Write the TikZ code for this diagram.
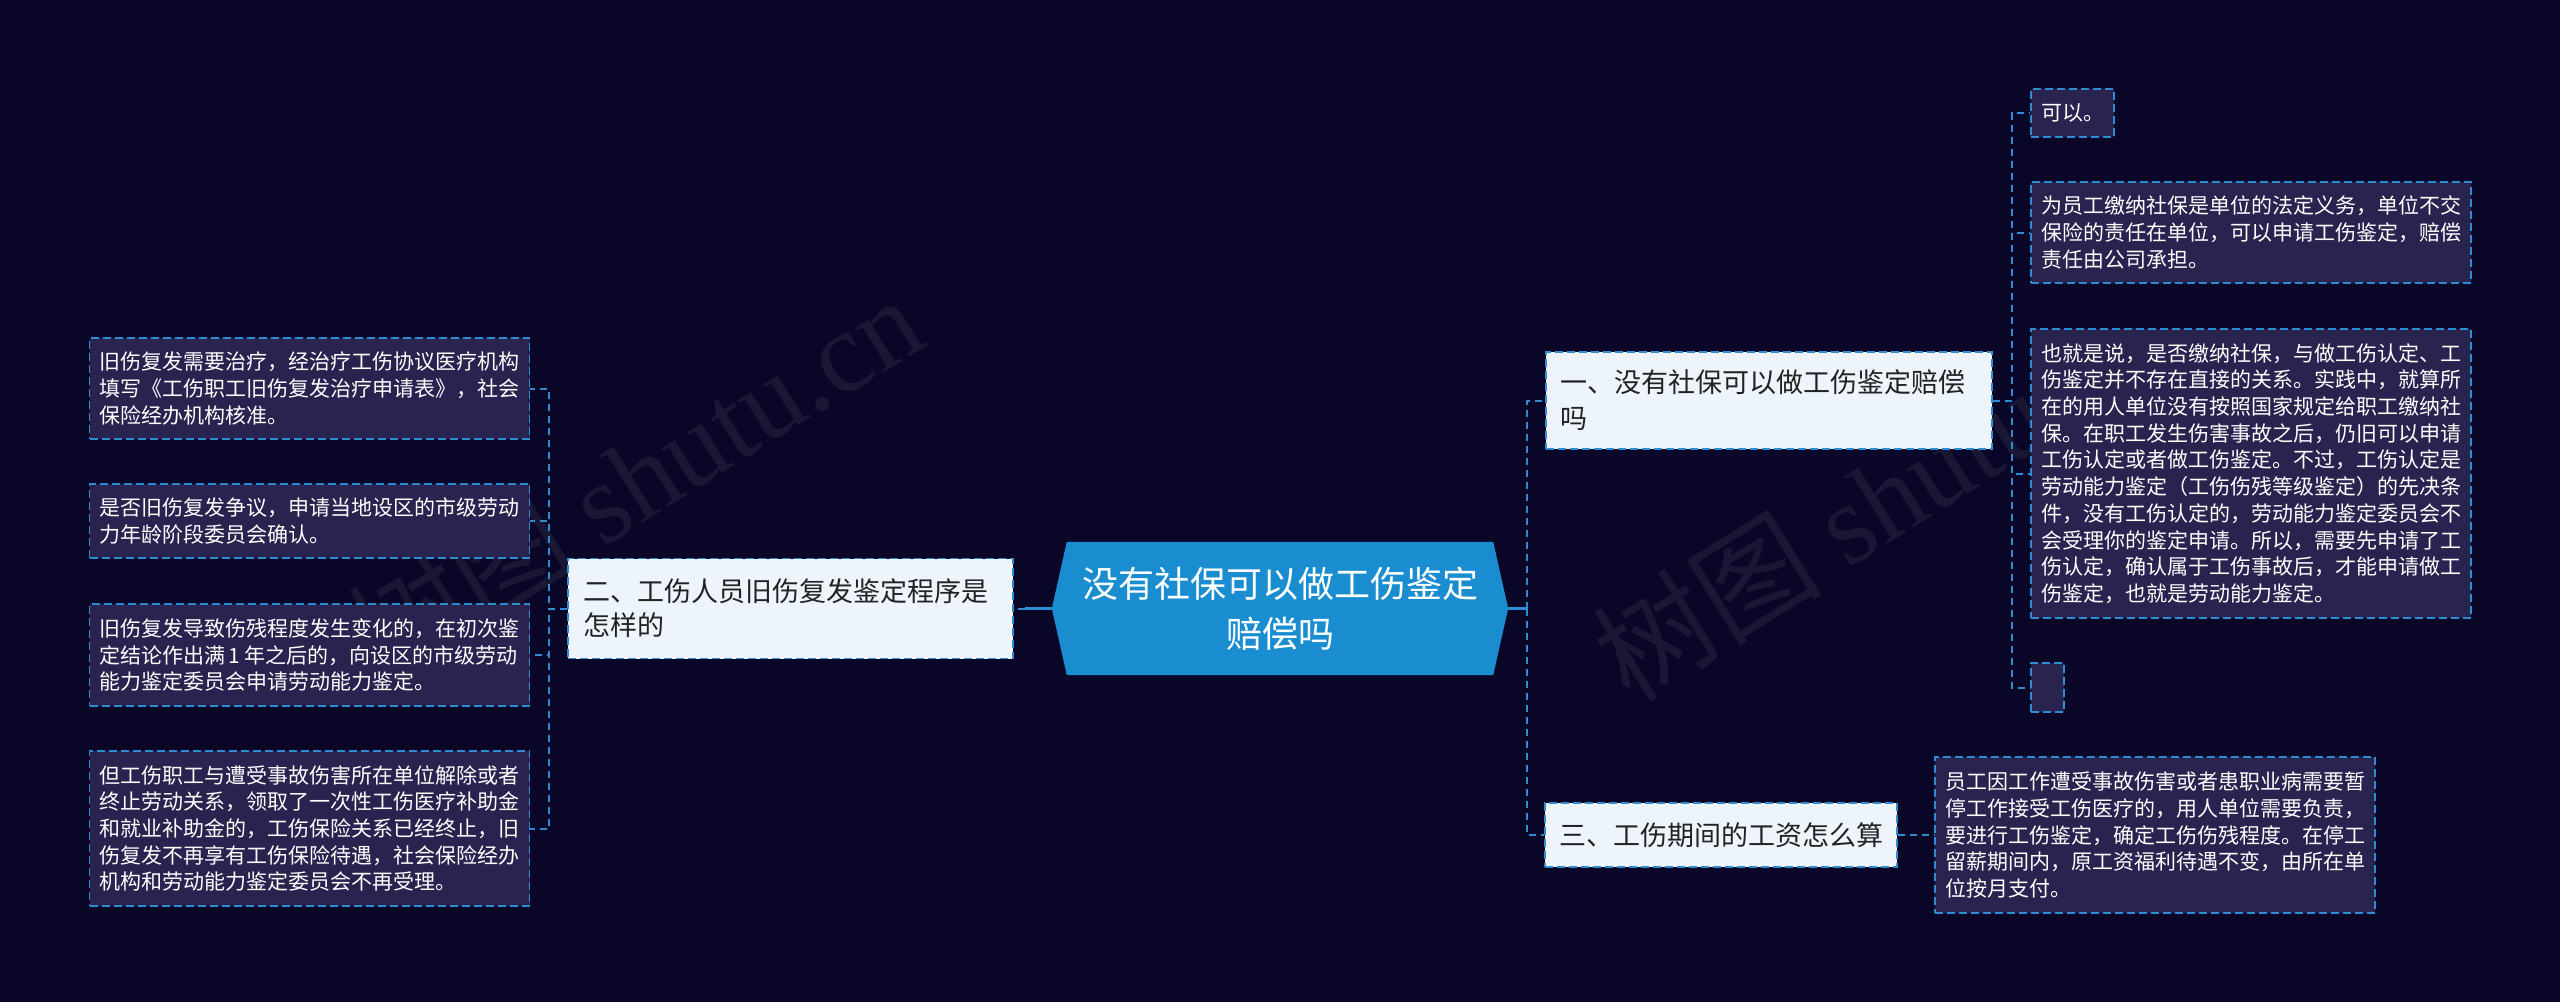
\documentclass[tikz,border=0pt]{standalone}
\usepackage{fontspec}
\setmainfont{Noto Sans CJK SC}
\newfontfamily\wmserif{Liberation Serif}
\definecolor{bgc}{HTML}{0A0628}
\definecolor{leaff}{HTML}{28234F}
\definecolor{dashc}{HTML}{2E8CD2}
\definecolor{branchf}{HTML}{EEF4FC}
\definecolor{rootf}{HTML}{1A8DD1}
\definecolor{darktext}{HTML}{222222}
\newcommand\lffont{\fontsize{21pt}{26.7pt}\selectfont}
\newcommand\brfontA{\fontsize{27pt}{36pt}\selectfont}
\newcommand\brfontB{\fontsize{27pt}{34pt}\selectfont}
\newcommand\rtfont{\fontsize{36pt}{50pt}\selectfont}
\newcommand\wmfont{\fontsize{115pt}{115pt}\selectfont}
\pgfdeclarelayer{back}
\pgfdeclarelayer{mid}
\pgfsetlayers{back,mid,main}
\begin{document}
\begin{tikzpicture}[x=1pt,y=-1pt,
  boxline/.style={draw=dashc, line width=1.8pt, dash pattern=on 8pt off 4pt},
  leaf/.style={boxline, fill=leaff, text=white, font=\lffont, inner sep=0pt},
  leafbox/.style={leaf, text width=420pt, align=left, minimum width=440pt},
  branch/.style={boxline, fill=branchf, text=darktext, inner sep=0pt, align=left},
  roottext/.style={text=white, font=\rtfont, inner sep=0pt, align=center,
    text width=426pt, minimum height=133pt},
  conn/.style={draw=dashc, line width=2pt, dash pattern=on 7pt off 5pt},
  rootconn/.style={draw=dashc, line width=3pt},
  wm/.style={text=gray, text opacity=0.14, font=\wmfont, inner sep=0pt}
]
\begin{pgfonlayer}{back}
\fill[bgc] (0,0) rectangle (2560,1002);
\end{pgfonlayer}
\useasboundingbox (0,0) rectangle (2560,1002);

% root
\node[roottext] (root) at (1280,608.5) {没有社保可以做工伤鉴定\\赔偿吗};
\begin{pgfonlayer}{mid}
\fill[rootf] (root.north west) -- (root.north east) -- ([xshift=15pt]root.east)
  -- (root.south east) -- (root.south west) -- ([xshift=-15pt]root.west) -- cycle;
\end{pgfonlayer}
\coordinate (rootL) at ([xshift=-15pt]root.west);
\coordinate (rootR) at ([xshift=15pt]root.east);
\coordinate (busL) at (1025,608.5);
\coordinate (busR) at (1527,608.5);

% branches
\node[branch, font=\brfontA, text width=418pt, minimum width=446pt, minimum height=97pt]
  (b1) at (1769,400.5) {一、没有社保可以做工伤鉴定赔偿\\吗};
\node[branch, font=\brfontB, text width=415pt, minimum width=445pt, minimum height=100pt]
  (b2) at (790.5,608.5) {二、工伤人员旧伤复发鉴定程序是\\怎样的};
\node[branch, font=\brfontA, minimum width=352pt, minimum height=64pt]
  (b3) at (1721,835) {三、工伤期间的工资怎么算};

% left leaves
\node[leafbox, minimum height=101pt] (l1) at (309.5,388.5)
  {旧伤复发需要治疗，经治疗工伤协议医疗机构\\填写《工伤职工旧伤复发治疗申请表》，社会\\保险经办机构核准。};
\node[leafbox, minimum height=74pt] (l2) at (309.5,521)
  {是否旧伤复发争议，申请当地设区的市级劳动\\力年龄阶段委员会确认。};
\node[leafbox, minimum height=102pt] (l3) at (309.5,655)
  {旧伤复发导致伤残程度发生变化的，在初次鉴\\定结论作出满\,1\,年之后的，向设区的市级劳动\\能力鉴定委员会申请劳动能力鉴定。};
\node[leafbox, minimum height=155pt] (l4) at (309.5,828.5)
  {但工伤职工与遭受事故伤害所在单位解除或者\\终止劳动关系，领取了一次性工伤医疗补助金\\和就业补助金的，工伤保险关系已经终止，旧\\伤复发不再享有工伤保险待遇，社会保险经办\\机构和劳动能力鉴定委员会不再受理。};

% right leaves
\node[leaf, minimum width=83pt, minimum height=48pt] (r1) at (2072.5,113) {可以。};
\node[leafbox, minimum height=101pt] (r2) at (2251,232.5)
  {为员工缴纳社保是单位的法定义务，单位不交\\保险的责任在单位，可以申请工伤鉴定，赔偿\\责任由公司承担。};
\node[leafbox, minimum height=289pt] (r3) at (2251,473.5)
  {也就是说，是否缴纳社保，与做工伤认定、工\\伤鉴定并不存在直接的关系。实践中，就算所\\在的用人单位没有按照国家规定给职工缴纳社\\保。在职工发生伤害事故之后，仍旧可以申请\\工伤认定或者做工伤鉴定。不过，工伤认定是\\劳动能力鉴定（工伤伤残等级鉴定）的先决条\\件，没有工伤认定的，劳动能力鉴定委员会不\\会受理你的鉴定申请。所以，需要先申请了工\\伤认定，确认属于工伤事故后，才能申请做工\\伤鉴定，也就是劳动能力鉴定。};
\node[leaf, minimum width=33pt, minimum height=49pt] (r4) at (2047.5,687.5) {};
\node[leafbox, minimum height=156pt] (r5) at (2155,835)
  {员工因工作遭受事故伤害或者患职业病需要暂\\停工作接受工伤医疗的，用人单位需要负责，\\要进行工伤鉴定，确定工伤伤残程度。在停工\\留薪期间内，原工资福利待遇不变，由所在单\\位按月支付。};

% connectors
\draw[rootconn] (rootL) -- (busL);
\draw[conn] (busL) -- (b2.east);
\draw[rootconn] (rootR) -- (busR);
\draw[conn] (busR) |- (b1.west);
\draw[conn] (busR) |- (b3.west);
\foreach \n in {l1,l2,l3,l4}{
  \draw[conn] (b2.west) -- ++(-18,0) |- (\n.east);
}
\foreach \n in {r1,r2,r3,r4}{
  \draw[conn] (b1.east) -- ++(19,0) |- (\n.west);
}
\draw[conn] (b3.east) -- (r5.west);

% watermark (behind the boxes)
\begin{pgfonlayer}{back}
\node[wm, rotate=32, anchor=base west] (wm1) at (385,684) {树图 {\wmserif shutu.cn}};
\node[wm, rotate=32, anchor=base west] (wm2) at (1630,705) {树图 {\wmserif shutu.cn}};
\end{pgfonlayer}
\end{tikzpicture}
\end{document}
